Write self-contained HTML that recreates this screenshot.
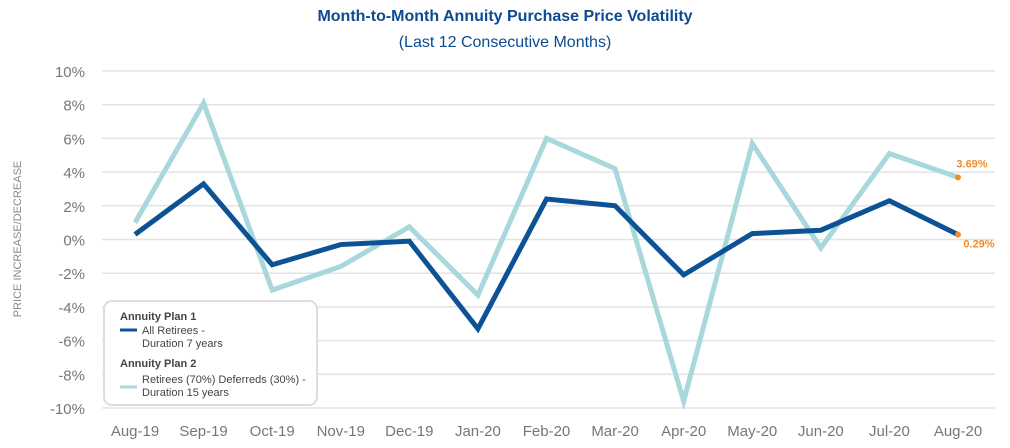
<!DOCTYPE html>
<html><head><meta charset="utf-8"><style>
body{margin:0;background:#fff;width:1010px;height:443px;overflow:hidden;font-family:"Liberation Sans",sans-serif}
</style></head><body>
<svg id="chart" width="1010" height="443" xmlns="http://www.w3.org/2000/svg" font-family="Liberation Sans, sans-serif">
<text x="505" y="21" text-anchor="middle" font-size="16" font-weight="bold" fill="#0d4a8f">Month-to-Month Annuity Purchase Price Volatility</text>
<text x="505" y="47" text-anchor="middle" font-size="16" fill="#0d4a8f">(Last 12 Consecutive Months)</text>
<text transform="translate(21,239) rotate(-90)" text-anchor="middle" font-size="11" fill="#888">PRICE INCREASE/DECREASE</text>
<g id="grid"></g><g id="xlabels"></g><g id="lines"></g>
<g>
<rect x="104" y="301" width="213" height="104" rx="8" fill="#fff" stroke="#ddd" stroke-width="2"/>
<text x="120" y="320" font-size="11" font-weight="bold" fill="#444">Annuity Plan 1</text>
<line x1="120" y1="330" x2="137" y2="330" stroke="#0d5295" stroke-width="3"/>
<text x="142" y="334" font-size="11" fill="#444">All Retirees -</text>
<text x="142" y="347" font-size="11" fill="#444">Duration 7 years</text>
<text x="120" y="367" font-size="11" font-weight="bold" fill="#444">Annuity Plan 2</text>
<line x1="120" y1="387" x2="137" y2="387" stroke="#a8d8dc" stroke-width="3"/>
<text x="142" y="383" font-size="11" fill="#444">Retirees (70%) Deferreds (30%) -</text>
<text x="142" y="396" font-size="11" fill="#444">Duration 15 years</text>
</g>
</svg>
<script>
const categories=["Aug-19","Sep-19","Oct-19","Nov-19","Dec-19","Jan-20","Feb-20","Mar-20","Apr-20","May-20","Jun-20","Jul-20","Aug-20"];
const plan1=[0.3,3.3,-1.5,-0.3,-0.1,-5.3,2.4,2.0,-2.1,0.35,0.55,2.3,0.29];
const plan2=[1.0,8.1,-3.0,-1.6,0.75,-3.3,6.0,4.2,-9.6,5.7,-0.5,5.1,3.69];
const yTicks=[10,8,6,4,2,0,-2,-4,-6,-8,-10];
const NS="http://www.w3.org/2000/svg";
const x=i=>135+i*(958-135)/(categories.length-1);
const y=v=>239.5-v*16.85;
function mk(t,a,p){const e=document.createElementNS(NS,t);for(const k in a)e.setAttribute(k,a[k]);p.appendChild(e);return e;}
const grid=document.getElementById('grid');
yTicks.forEach(v=>{
 const l=mk('line',{x1:102,x2:995,y1:y(v),y2:y(v),stroke:'#e3e3e3','stroke-width':1.5},grid);
 
 
 const t=mk('text',{x:85,y:y(v)+6,'text-anchor':'end','font-size':15,fill:'#777'},grid);
 t.textContent=v+'%';
 
 
});
const xl=document.getElementById('xlabels');
categories.forEach((c,i)=>{
 const t=mk('text',{x:x(i),y:436,'text-anchor':'middle','font-size':15,fill:'#777'},xl);
 t.textContent=c;
 
 
});
const lines=document.getElementById('lines');
function series(d,col,name){
 const p=mk('polyline',{points:d.map((v,i)=>x(i)+','+y(v)).join(' '),fill:'none',stroke:col,'stroke-width':5,'stroke-linejoin':'miter'},lines);
 
 
 const n=d.length-1;
 const c=mk('circle',{cx:x(n),cy:y(d[n]),r:3,fill:'#f28c28'},lines);
 
 
}
series(plan2,'#a8d8dc','plan2-line');
series(plan1,'#0d5295','plan1-line');
const l2=mk('text',{x:x(12)+14,y:y(plan2[12])-10,'text-anchor':'middle','font-size':11,'font-weight':'bold',fill:'#f28c28'},lines);
l2.textContent=plan2[12].toFixed(2)+'%';


const l1=mk('text',{x:x(12)+21,y:y(plan1[12])+13,'text-anchor':'middle','font-size':11,'font-weight':'bold',fill:'#f28c28'},lines);
l1.textContent=plan1[12].toFixed(2)+'%';


</script>
</body></html>
